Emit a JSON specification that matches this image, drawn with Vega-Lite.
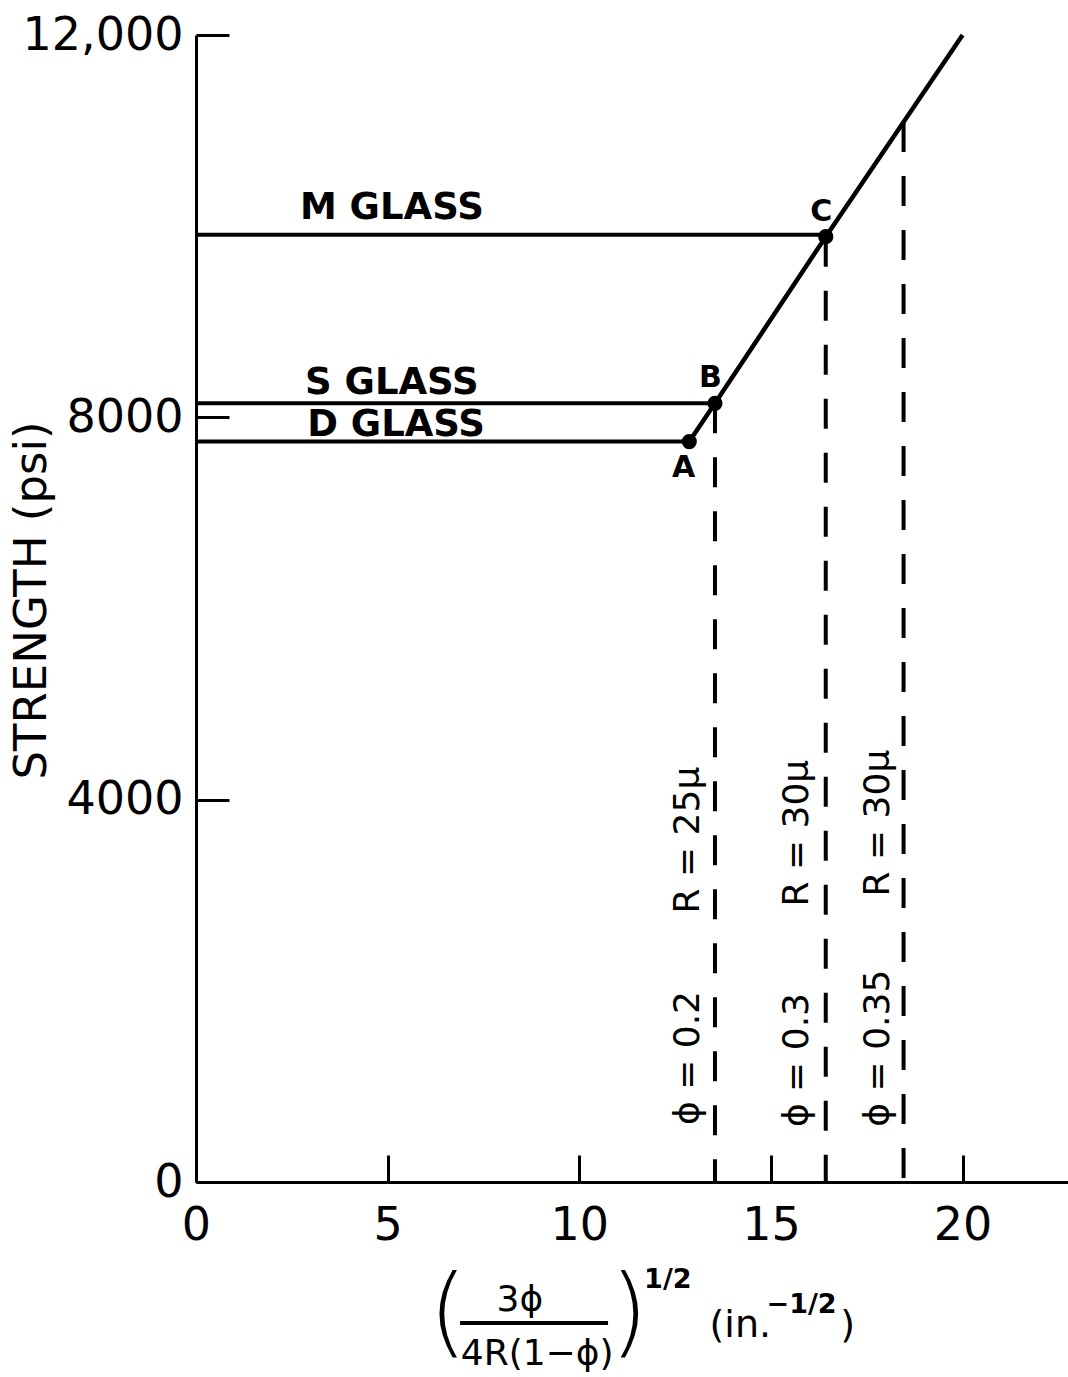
{
  "$schema": "https://vega.github.io/schema/vega-lite/v6.json",
  "autosize": {"type": "none"},
  "width": 872,
  "height": 1147,
  "padding": {"left": 196, "top": 35, "right": 0, "bottom": 195},
  "background": "white",
  "config": {
    "view": {"stroke": null},
    "font": "DejaVu Sans",
    "text": {"font": "DejaVu Sans", "color": "black"}
  },
  "datasets": {
    "curve": [
      {"x": 12.87, "y": 7746},
      {"x": 13.54, "y": 8147},
      {"x": 16.43, "y": 9890},
      {"x": 20.0, "y": 12000}
    ],
    "points": [
      {"name": "A", "x": 12.87, "y": 7746, "lx": 12.72, "ly": 7470},
      {"name": "B", "x": 13.54, "y": 8147, "lx": 13.42, "ly": 8410},
      {"name": "C", "x": 16.43, "y": 9890, "lx": 16.31, "ly": 10150}
    ],
    "glass": [
      {"glass": "M GLASS", "x0": 0, "x1": 16.43, "y": 9910, "lx": 5.11, "ly": 10190},
      {"glass": "S GLASS", "x0": 0, "x1": 13.54, "y": 8147, "lx": 5.11, "ly": 8359},
      {"glass": "D GLASS", "x0": 0, "x1": 12.87, "y": 7746, "lx": 5.22, "ly": 7920}
    ],
    "dashed": [
      {"x": 13.54, "ytop": 8147},
      {"x": 16.43, "ytop": 9890},
      {"x": 18.46, "ytop": 11090}
    ],
    "rlabels": [
      {"text": "ϕ = 0.2", "x": 12.84, "y": 1297},
      {"text": "R = 25μ", "x": 12.84, "y": 3577},
      {"text": "ϕ = 0.3", "x": 15.68, "y": 1276},
      {"text": "R = 30μ", "x": 15.68, "y": 3650},
      {"text": "ϕ = 0.35", "x": 17.79, "y": 1400},
      {"text": "R = 30μ", "x": 17.79, "y": 3755}
    ],
    "parens": [
      {"text": "(", "x": 6.57, "y": -1400},
      {"text": ")", "x": 11.3, "y": -1400}
    ],
    "frac": [
      {"text": "3ϕ", "x": 8.45, "y": -1235},
      {"text": "4R(1−ϕ)", "x": 8.9, "y": -1800}
    ],
    "bar": [{"x0": 6.89, "x1": 10.75, "y": -1475}],
    "sup": [
      {"text": "1/2", "x": 12.31, "y": -1025},
      {"text": "−1/2", "x": 15.8, "y": -1287}
    ],
    "unit": [
      {"text": "(in.", "x": 14.2, "y": -1507},
      {"text": ")", "x": 17.0, "y": -1507}
    ]
  },
  "layer": [
    {
      "data": {"name": "glass"},
      "mark": {"type": "rule", "strokeWidth": 4, "color": "black"},
      "encoding": {
        "x": {
          "field": "x0", "type": "quantitative",
          "scale": {"domain": [0, 22.75], "nice": false, "zero": false},
          "axis": {
            "values": [0, 5, 10, 15, 20],
            "title": null,
            "grid": false,
            "domainColor": "black",
            "domainWidth": 3,
            "tickColor": "black",
            "tickWidth": 3,
            "tickSize": -27,
            "labelFontSize": 46,
            "labelColor": "black",
            "labelFont": "DejaVu Sans",
            "labelPadding": 48,
            "labelBaseline": "top",
            "labelFlush": false
          }
        },
        "x2": {"field": "x1"},
        "y": {
          "field": "y", "type": "quantitative",
          "scale": {"domain": [0, 12000], "nice": false},
          "axis": {
            "values": [0, 4000, 8000, 12000],
            "labelExpr": "datum.value == 12000 ? '12,000' : '' + datum.value",
            "title": "STRENGTH (psi)",
            "titleFont": "DejaVu Sans",
            "titleFontSize": 45,
            "titleFontWeight": "normal",
            "titleColor": "black",
            "titleAngle": 270,
            "titleX": -165,
            "titleY": 565,
            "titleAlign": "center",
            "titleBaseline": "middle",
            "grid": false,
            "domainColor": "black",
            "domainWidth": 3,
            "tickColor": "black",
            "tickWidth": 3,
            "tickSize": -33,
            "labelFontSize": 46,
            "labelColor": "black",
            "labelFont": "DejaVu Sans",
            "labelPadding": 46,
            "labelFlush": false
          }
        }
      }
    },
    {
      "data": {"name": "glass"},
      "mark": {"type": "text", "fontSize": 37, "fontWeight": "bold", "align": "center", "baseline": "middle"},
      "encoding": {
        "x": {"field": "lx", "type": "quantitative"},
        "y": {"field": "ly", "type": "quantitative"},
        "text": {"field": "glass"}
      }
    },
    {
      "data": {"name": "curve"},
      "mark": {"type": "line", "strokeWidth": 4.5, "color": "black"},
      "encoding": {
        "x": {"field": "x", "type": "quantitative"},
        "y": {"field": "y", "type": "quantitative"}
      }
    },
    {
      "data": {"name": "dashed"},
      "mark": {"type": "rule", "strokeWidth": 4, "color": "black", "strokeDash": [30, 24]},
      "encoding": {
        "x": {"field": "x", "type": "quantitative"},
        "y": {"field": "ytop", "type": "quantitative"},
        "y2": {"datum": 0}
      }
    },
    {
      "data": {"name": "points"},
      "mark": {"type": "point", "filled": true, "shape": "circle", "size": 230, "color": "black", "opacity": 1},
      "encoding": {
        "x": {"field": "x", "type": "quantitative"},
        "y": {"field": "y", "type": "quantitative"}
      }
    },
    {
      "data": {"name": "points"},
      "mark": {"type": "text", "fontSize": 30, "fontWeight": "bold", "align": "center", "baseline": "middle"},
      "encoding": {
        "x": {"field": "lx", "type": "quantitative"},
        "y": {"field": "ly", "type": "quantitative"},
        "text": {"field": "name"}
      }
    },
    {
      "data": {"name": "rlabels"},
      "mark": {"type": "text", "fontSize": 36, "angle": 270, "align": "center", "baseline": "middle"},
      "encoding": {
        "x": {"field": "x", "type": "quantitative"},
        "y": {"field": "y", "type": "quantitative"},
        "text": {"field": "text"}
      }
    },
    {
      "data": {"name": "parens"},
      "mark": {"type": "text", "fontSize": 98, "fontWeight": 300, "align": "center", "baseline": "middle", "clip": false},
      "encoding": {
        "x": {"field": "x", "type": "quantitative"},
        "y": {"field": "y", "type": "quantitative"},
        "text": {"field": "text"}
      }
    },
    {
      "data": {"name": "frac"},
      "mark": {"type": "text", "fontSize": 36, "align": "center", "baseline": "middle", "clip": false},
      "encoding": {
        "x": {"field": "x", "type": "quantitative"},
        "y": {"field": "y", "type": "quantitative"},
        "text": {"field": "text"}
      }
    },
    {
      "data": {"name": "bar"},
      "mark": {"type": "rule", "strokeWidth": 4, "color": "black", "clip": false},
      "encoding": {
        "x": {"field": "x0", "type": "quantitative"},
        "x2": {"field": "x1"},
        "y": {"field": "y", "type": "quantitative"}
      }
    },
    {
      "data": {"name": "sup"},
      "mark": {"type": "text", "fontSize": 27, "fontWeight": "bold", "align": "center", "baseline": "middle", "clip": false},
      "encoding": {
        "x": {"field": "x", "type": "quantitative"},
        "y": {"field": "y", "type": "quantitative"},
        "text": {"field": "text"}
      }
    },
    {
      "data": {"name": "unit"},
      "mark": {"type": "text", "fontSize": 38, "align": "center", "baseline": "middle", "clip": false},
      "encoding": {
        "x": {"field": "x", "type": "quantitative"},
        "y": {"field": "y", "type": "quantitative"},
        "text": {"field": "text"}
      }
    }
  ]
}
